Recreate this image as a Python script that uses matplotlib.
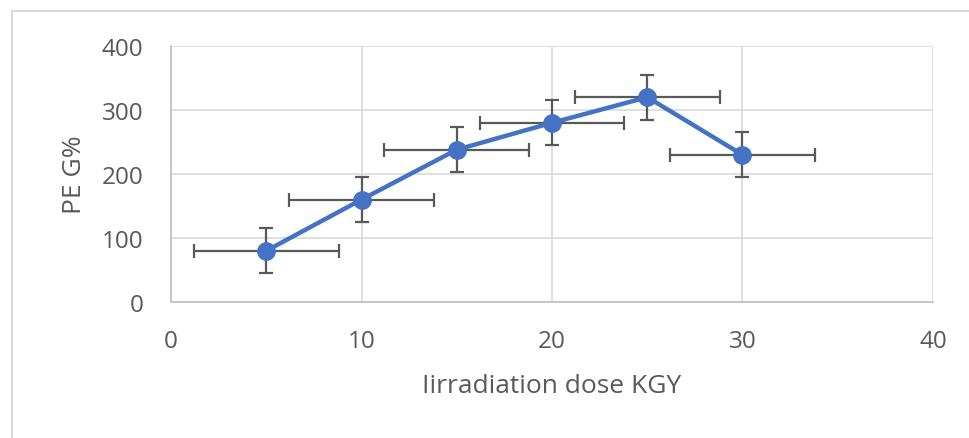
import matplotlib.pyplot as plt
from matplotlib.lines import Line2D

dose = [5, 10, 15, 20, 25, 30]
pe_g = [80, 160, 238, 280, 320, 230]
x_err = [3.8, 3.8, 3.8, 3.8, 3.8, 3.8]
y_err = [35, 35, 35, 35, 35, 35]

x_ticks = [0, 10, 20, 30, 40]
y_ticks = [0, 100, 200, 300, 400]

plt.rcParams['font.family'] = ['Open Sans', 'DejaVu Sans']

fig = plt.figure(figsize=(9.7, 4.39), dpi=100)
ax = fig.add_axes([171 / 970, 1 - 303 / 439, (933 - 171) / 970, (303 - 47) / 439])

# outer chart border (left and top only visible)
fig.add_artist(Line2D([12 / 970, 12 / 970], [0, 1 - 12 / 439], color='#d9d9d9', lw=1.5))
fig.add_artist(Line2D([12 / 970, 1], [1 - 12 / 439, 1 - 12 / 439], color='#d9d9d9', lw=1.5))

ax.errorbar(dose, pe_g, xerr=x_err, yerr=y_err, fmt='none', ecolor='#595959',
            elinewidth=1.6, capsize=5, capthick=1.6, zorder=2)
ax.plot(dose, pe_g, color='#4472C4', lw=3.2, marker='o', markersize=12.5, zorder=3)

ax.set_xlim(0, 40)
ax.set_ylim(0, 400)
ax.set_xticks(x_ticks)
ax.set_yticks(y_ticks)
ax.grid(True, color='#d9d9d9', lw=1.2, zorder=0)
ax.set_axisbelow(True)
for side in ['top', 'right']:
    ax.spines[side].set_visible(False)
for side in ['left', 'bottom']:
    ax.spines[side].set_color('#bfbfbf')
    ax.spines[side].set_linewidth(1.2)
ax.tick_params(length=0, labelsize=17.5, labelcolor='#595959')
ax.tick_params(axis='y', pad=20)
ax.tick_params(axis='x', pad=19.5)

ax.set_xlabel('Iirradiation dose KGY', fontsize=19, color='#595959', labelpad=14)
ax.set_ylabel('PE G%', fontsize=19, color='#595959', labelpad=10.5)

fig.savefig('out.png', dpi=100)
